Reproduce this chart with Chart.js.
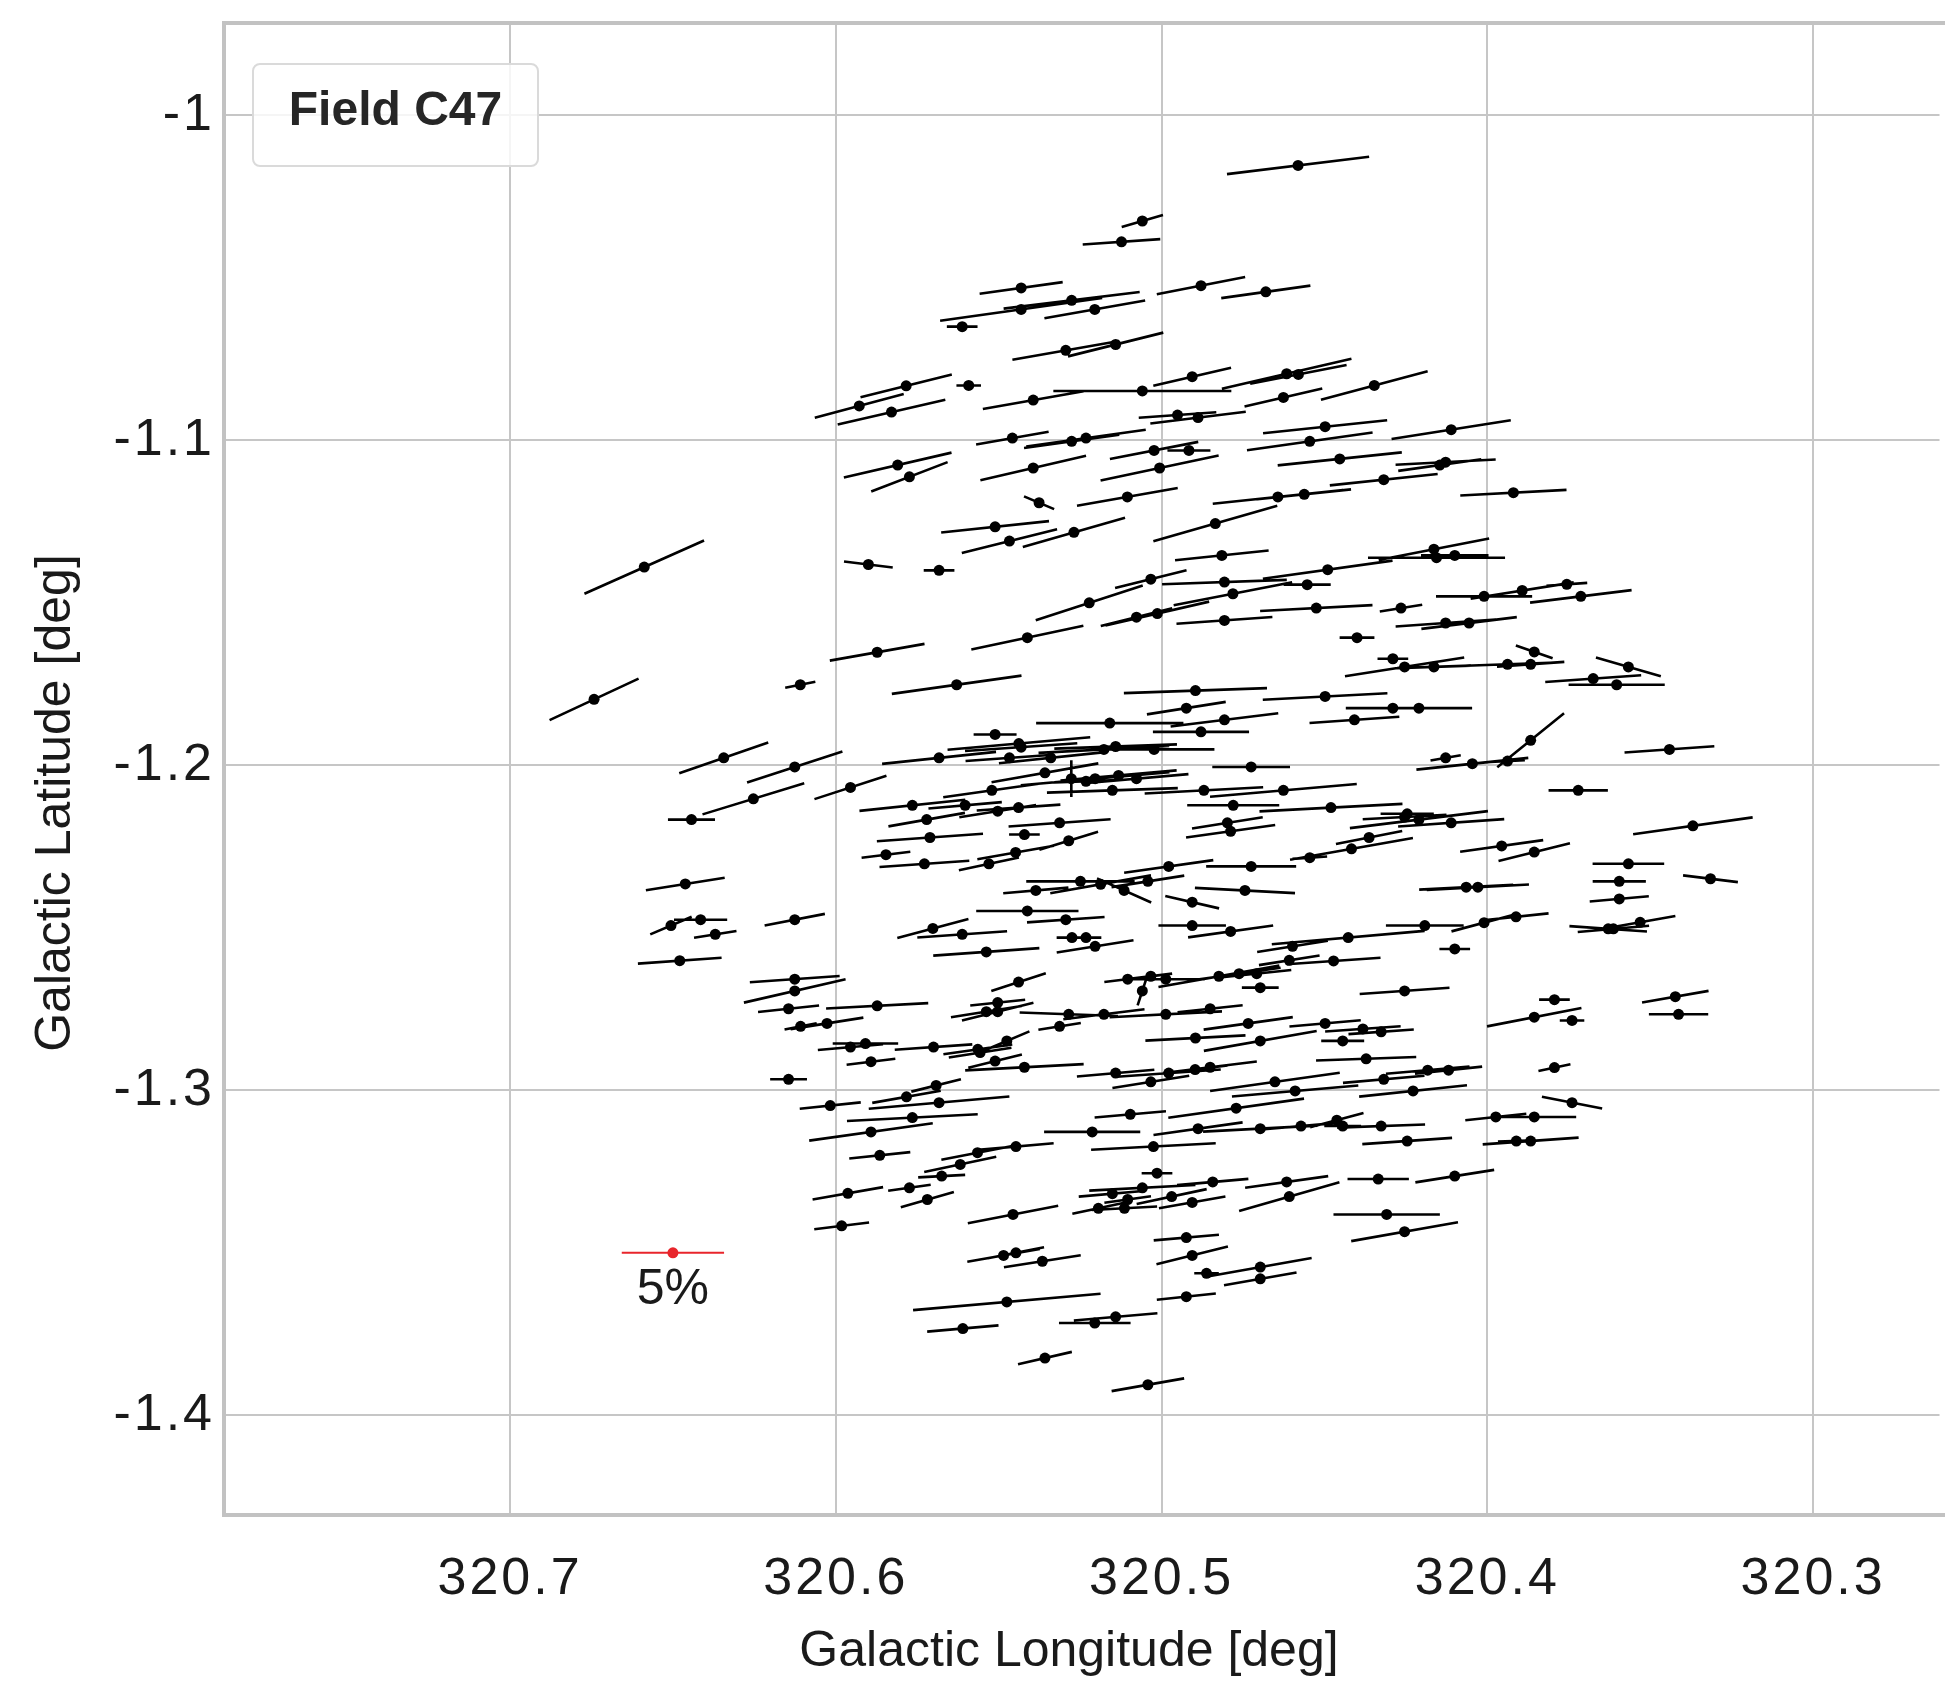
<!DOCTYPE html>
<html>
<head>
<meta charset="utf-8">
<title>Field C47</title>
<script src="https://cdn.jsdelivr.net/npm/chart.js@4.4.1/dist/chart.umd.min.js"></script>
<style>
  html, body { margin: 0; padding: 0; background: #ffffff; overflow: hidden; }
  canvas { display: block; }
</style>
</head>
<body>
<canvas id="myChart" width="1945" height="1682"></canvas>
<script>
// ---- data: galactic position, polarization degree (%) and angle of each vector (deg, on the map) ----
var lon = [
  320.5784, 320.5928, 320.5829, 320.5810, 320.5774,
  320.4581, 320.5059, 320.5123, 320.5431, 320.5276, 320.5431, 320.5205, 320.5612, 320.4879, 320.4680,
  320.5294, 320.5141, 320.5592, 320.5394, 320.5059, 320.4906, 320.4616, 320.4580, 320.4626, 320.4951,
  320.4888, 320.4498, 320.5458, 320.5276, 320.5232, 320.5023, 320.4916, 320.4545, 320.4453, 320.5394,
  320.5006, 320.5376, 320.5105, 320.4643, 320.4562, 320.4835, 320.5511, 320.5467, 320.5269, 320.4815,
  320.4347, 320.4111, 320.4128, 320.4146, 320.4318, 320.3920, 320.4164,
  320.6588, 320.6742, 320.5900, 320.5683, 320.5873, 320.6109, 320.6344, 320.6126, 320.5683, 320.5955,
  320.6253, 320.6443, 320.5765, 320.5721, 320.5711, 320.5846, 320.5728, 320.6462, 320.6415, 320.6506,
  320.6370, 320.6126, 320.6479, 320.5702,
  320.5033, 320.4807, 320.4490, 320.4553, 320.4781, 320.5222, 320.5077, 320.5013, 320.4807, 320.4525,
  320.5412, 320.5629, 320.4896, 320.4498, 320.4924, 320.4807, 320.5159, 320.4879, 320.5511, 320.5438,
  320.5431, 320.5467, 320.5340, 320.5177, 320.5141, 320.5023, 320.4725, 320.5277, 320.5358, 320.5232,
  320.5204, 320.5132, 320.5077, 320.5151, 320.5521, 320.4870, 320.4626, 320.5603, 320.5503, 320.5439,
  320.4780, 320.4480, 320.5313, 320.4798, 320.4788, 320.5421, 320.5285, 320.5448, 320.5530, 320.4978,
  320.4725, 320.4545, 320.5249, 320.5187, 320.5042, 320.5115, 320.5386, 320.4744, 320.4906, 320.5412,
  320.5294, 320.5612, 320.4906, 320.4788, 320.5275, 320.5232, 320.5204, 320.5538, 320.4598, 320.4608,
  320.4472,
  320.4156, 320.4100, 320.3756, 320.3893, 320.4010, 320.3713, 320.4265, 320.4128, 320.4056, 320.4400,
  320.3856, 320.4290, 320.4254, 320.4164, 320.3938, 320.3867, 320.3567, 320.3675, 320.3603, 320.4290,
  320.4210, 320.4408, 320.3867, 320.3441, 320.4128, 320.4046, 320.3938, 320.3721, 320.4246, 320.4254,
  320.4210, 320.4111, 320.4363, 320.4417, 320.3369, 320.3956, 320.3856, 320.3567, 320.3595, 320.3315,
  320.3595, 320.4065, 320.4029, 320.4192, 320.4010, 320.3912, 320.4427, 320.3629, 320.3613, 320.3531,
  320.4100,
  320.6126, 320.6126, 320.6145, 320.5873, 320.6108, 320.6027, 320.5955, 320.5909, 320.5700, 320.5892,
  320.6145, 320.5692, 320.5783, 320.6017, 320.5683, 320.5765, 320.5892, 320.5865, 320.5675, 320.5963,
  320.5774, 320.5719, 320.5982,
  320.5439, 320.5104, 320.5033, 320.4987, 320.5059, 320.4824, 320.4762, 320.4708, 320.4697, 320.5503,
  320.5538, 320.5503, 320.5285, 320.5177, 320.5313, 320.4987, 320.4851, 320.4734, 320.4498, 320.4896,
  320.4697, 320.4444, 320.5475, 320.5564, 320.5557, 320.5511, 320.5421, 320.5141, 320.4978, 320.4897,
  320.4851, 320.5033, 320.4652, 320.4590, 320.5096, 320.4771, 320.5213, 320.4888, 320.4697, 320.4572,
  320.4462, 320.4444, 320.5025, 320.5447, 320.5565, 320.5618, 320.5014, 320.5059, 320.4843, 320.5151,
  320.5104, 320.5194, 320.5114, 320.4969, 320.4906, 320.4616, 320.4608, 320.5456, 320.4924, 320.4906,
  320.5485, 320.5447, 320.5366, 320.4862, 320.4697, 320.4697, 320.5475, 320.4924, 320.5141, 320.5205,
  320.5610, 320.5358, 320.5042,
  320.4254, 320.3794, 320.3423, 320.3413, 320.3856, 320.3740, 320.4382, 320.4326, 320.4372, 320.4183,
  320.4119, 320.4318, 320.4228, 320.3794, 320.3740, 320.3974, 320.3856, 320.4326, 320.4246, 320.3911,
  320.3867, 320.4335, 320.4100, 320.4309, 320.4254
];
var lat = [
  -1.0832, -1.0894, -1.0913, -1.1076, -1.1112,
  -1.0154, -1.0325, -1.0389, -1.0531, -1.0569, -1.0597, -1.0597, -1.0650, -1.0524, -1.0543,
  -1.0723, -1.0705, -1.0831, -1.0876, -1.0848, -1.0804, -1.0795, -1.0797, -1.0868, -1.0922,
  -1.0930, -1.0958, -1.0993, -1.1003, -1.0993, -1.1031, -1.1031, -1.1003, -1.1057, -1.1085,
  -1.1085, -1.1192, -1.1174, -1.1174, -1.1166, -1.1256, -1.1266, -1.1310, -1.1283, -1.1354,
  -1.0831, -1.0967, -1.1067, -1.1076, -1.1121, -1.1161, -1.1335,
  -1.1390, -1.1797, -1.1382, -1.1400, -1.1652, -1.1752, -1.1977, -1.2005, -1.1977, -1.2068,
  -1.2103, -1.2167, -1.2123, -1.2167, -1.2222, -1.2275, -1.2303, -1.2365, -1.2475, -1.2493,
  -1.2520, -1.2475, -1.2601, -1.2502,
  -1.1427, -1.1436, -1.1398, -1.1444, -1.1472, -1.1500, -1.1544, -1.1533, -1.1554, -1.1516,
  -1.1607, -1.1752, -1.1770, -1.1788, -1.1824, -1.1860, -1.1870, -1.1897, -1.1905, -1.1933,
  -1.1944, -1.1977, -1.1977, -1.1951, -1.1942, -1.1951, -1.2005, -1.2041, -1.2023, -1.2049,
  -1.2041, -1.2031, -1.2041, -1.2077, -1.2077, -1.2077, -1.2077, -1.2123, -1.2141, -1.2130,
  -1.2123, -1.2130, -1.2177, -1.2177, -1.2203, -1.2213, -1.2232, -1.2268, -1.2303, -1.2311,
  -1.2311, -1.2284, -1.2357, -1.2366, -1.2357, -1.2385, -1.2385, -1.2385, -1.2421, -1.2448,
  -1.2475, -1.2520, -1.2493, -1.2511, -1.2530, -1.2530, -1.2557, -1.2574, -1.2557, -1.2600,
  -1.2602,
  -1.1361, -1.1354, -1.1443, -1.1462, -1.1480, -1.1480, -1.1516, -1.1562, -1.1562, -1.1607,
  -1.1651, -1.1672, -1.1697, -1.1697, -1.1689, -1.1689, -1.1697, -1.1733, -1.1752, -1.1824,
  -1.1824, -1.1860, -1.1923, -1.1951, -1.1977, -1.1995, -1.1987, -1.2077, -1.2149, -1.2159,
  -1.2167, -1.2177, -1.2222, -1.2257, -1.2186, -1.2248, -1.2267, -1.2303, -1.2357, -1.2349,
  -1.2411, -1.2375, -1.2375, -1.2493, -1.2484, -1.2466, -1.2530, -1.2503, -1.2503, -1.2483,
  -1.2565,
  -1.2658, -1.2694, -1.2749, -1.2740, -1.2803, -1.2794, -1.2867, -1.2856, -1.2867, -1.2912,
  -1.2966, -1.2985, -1.3020, -1.3047, -1.3038, -1.3084, -1.3128, -1.3200, -1.3264, -1.3317,
  -1.3300, -1.3336, -1.3417,
  -1.2667, -1.2658, -1.2649, -1.2658, -1.2694, -1.2649, -1.2641, -1.2641, -1.2684, -1.2730,
  -1.2758, -1.2758, -1.2766, -1.2766, -1.2803, -1.2766, -1.2749, -1.2794, -1.2794, -1.2839,
  -1.2848, -1.2848, -1.2848, -1.2874, -1.2884, -1.2910, -1.2929, -1.2947, -1.2947, -1.2936,
  -1.2929, -1.2974, -1.2974, -1.3002, -1.3074, -1.3055, -1.3128, -1.3118, -1.3118, -1.3110,
  -1.3092, -1.3110, -1.3173, -1.3173, -1.3192, -1.3228, -1.3255, -1.3300, -1.3282, -1.3318,
  -1.3336, -1.3363, -1.3363, -1.3327, -1.3345, -1.3282, -1.3327, -1.3382, -1.3453, -1.3508,
  -1.3508, -1.3500, -1.3526, -1.3563, -1.3544, -1.3580, -1.3651, -1.3635, -1.3697, -1.3716,
  -1.3733, -1.3824, -1.3906,
  -1.2694, -1.2721, -1.2712, -1.2766, -1.2775, -1.2785, -1.2811, -1.2820, -1.2903, -1.2938,
  -1.2938, -1.2966, -1.3002, -1.2930, -1.3038, -1.3082, -1.3082, -1.3110, -1.3156, -1.3156,
  -1.3156, -1.3273, -1.3264, -1.3382, -1.3435
];
var pol = [
  4.6, 4.5, 5.4, 5.4, 4.0,
  7.0, 2.1, 3.8, 4.1, 6.7, 8.0, 5.0, 1.5, 4.4, 4.4,
  5.3, 4.8, 1.2, 5.0, 8.7, 3.9, 6.5, 4.8, 3.9, 3.8,
  4.7, 6.1, 3.6, 4.7, 5.9, 4.4, 2.1, 6.2, 6.1, 5.3,
  5.9, 1.6, 5.0, 6.4, 4.6, 6.3, 5.3, 4.8, 5.2, 4.6,
  5.4, 5.9, 4.9, 4.1, 5.3, 5.2, 5.5,
  6.4, 4.8, 2.4, 1.5, 4.7, 1.5, 4.6, 4.9, 5.6, 3.7,
  5.2, 2.3, 5.2, 3.8, 5.2, 2.4, 4.4, 3.9, 2.6, 2.2,
  2.1, 3.0, 4.1, 3.6,
  3.6, 6.1, 6.4, 2.3, 5.9, 5.5, 3.6, 5.2, 4.7, 5.5,
  5.6, 6.4, 7.0, 6.1, 3.9, 5.3, 7.2, 4.7, 2.1, 7.0,
  5.5, 4.3, 5.1, 6.4, 6.0, 5.9, 3.8, 1.8, 5.3, 3.1,
  7.3, 5.7, 5.1, 6.4, 4.8, 5.8, 7.2, 3.6, 3.8, 4.1,
  4.5, 7.0, 5.0, 3.5, 4.4, 1.5, 3.0, 3.8, 3.0, 4.4,
  4.4, 1.7, 5.3, 5.0, 3.6, 2.9, 3.2, 4.9, 2.7, 5.0,
  3.8, 4.4, 3.3, 4.2, 1.5, 1.5, 3.8, 5.2, 3.5, 3.0,
  4.6,
  6.7, 3.3, 2.0, 5.1, 4.7, 5.0, 2.1, 4.9, 4.7, 1.7,
  1.9, 1.5, 5.9, 3.6, 4.8, 3.3, 3.3, 4.7, 4.7, 4.6,
  5.2, 4.4, 4.2, 4.4, 1.5, 5.5, 1.7, 2.9, 2.6, 4.1,
  6.8, 5.2, 3.3, 6.1, 5.9, 4.1, 3.6, 3.5, 2.6, 2.7,
  2.9, 4.6, 5.0, 3.8, 3.3, 3.2, 7.5, 3.8, 3.5, 3.5,
  1.5,
  4.4, 5.1, 3.0, 5.0, 1.6, 3.6, 3.2, 3.2, 3.8, 2.4,
  1.8, 2.5, 3.4, 3.0, 6.9, 6.4, 6.1, 3.0, 2.3, 3.5,
  2.1, 2.7, 2.7,
  2.8, 2.3, 2.1, 3.8, 1.5, 6.0, 4.1, 3.4, 1.8, 2.7,
  3.5, 3.6, 4.8, 4.0, 2.1, 5.5, 3.2, 4.4, 3.5, 4.9,
  5.6, 2.1, 2.4, 3.4, 3.1, 2.7, 5.8, 3.8, 5.1, 3.2,
  4.6, 3.8, 6.4, 6.2, 3.5, 6.7, 4.7, 4.4, 5.6, 3.9,
  2.7, 1.8, 6.1, 3.7, 3.6, 3.6, 1.5, 5.2, 3.5, 3.3,
  2.3, 2.6, 3.2, 3.5, 3.3, 4.1, 5.1, 4.5, 3.2, 3.6,
  3.6, 2.8, 3.8, 1.2, 5.1, 3.6, 9.2, 2.9, 4.1, 3.5,
  3.5, 2.7, 3.6,
  4.4, 1.5, 3.3, 2.9, 4.7, 1.2, 3.7, 3.2, 4.9, 4.1,
  3.3, 4.0, 5.3, 1.6, 3.0, 3.0, 4.1, 4.3, 4.4, 1.8,
  4.7, 3.0, 3.9, 5.2, 5.3
];
var ang = [
  14, 15, 13, 13, 21,
  7, 16, 4, 8, 7, 8, 10, 0, 11, 8,
  10, 14, 0, 10, 0, 13, 13, 11, 13, 4,
  7, 6, 10, 8, 8, 11, 0, 8, 6, 13,
  12, -23, 10, 6, 6, 16, 6, 14, 16, 6,
  15, 9, 3, 8, 6, 3, 11,
  24, 25, -7, 0, 10, 11, 19, 18, 6, 18,
  17, 0, 6, 10, 4, 7, 4, 9, 0, 23,
  9, 11, 4, 15,
  14, 2, 8, 0, 11, 18, 14, 13, 4, 3,
  12, 8, 2, 3, 9, 7, 0, 0, 0, 5,
  4, 4, 6, 3, 2, 0, 0, 90, 10, 2,
  5, 5, 5, 2, 8, 3, 5, 5, 9, 4,
  0, 3, 4, 9, 8, 0, 17, 10, 12, 8,
  0, 4, 0, 10, 9, -24, 5, -3, -13, 0,
  4, 4, 0, 8, 0, 0, 9, 4, 9, 9,
  4,
  0, 0, 4, 9, 0, 7, 9, 4, 7, 0,
  -19, 0, 9, 2, 2, 4, -16, 4, 0, 0,
  0, 4, 39, 4, 10, 6, 3, 0, 0, 3,
  7, 4, 11, 10, 8, 8, 14, 0, 0, -7,
  5, 3, 3, 0, 15, 6, 5, -4, 5, 10,
  0,
  4, 13, 6, 3, 11, 9, 5, 0, 4, 7,
  0, 14, 10, 6, 5, 3, 8, 6, 3, 10,
  8, 16, 7,
  18, 7, 7, 0, 72, 10, 8, 6, 0, 6,
  9, 14, -2, 7, 9, 3, 6, 8, 5, 3,
  10, 0, 23, 8, 9, 14, 3, 5, 4, 7,
  7, 9, 8, 5, 5, 8, 0, 8, 3, 5,
  15, 0, 3, 5, 11, 12, 0, 3, 5, 5,
  8, 12, 3, 12, 10, 8, 16, 11, 5, 14,
  10, 11, 9, 0, 10, 10, 5, 6, 5, 0,
  5, 13, 10,
  4, 0, 10, 0, 11, 0, 4, 4, 2, 5,
  6, 5, 6, 12, -11, 6, 0, 2, 4, 2,
  4, 0, 9, 0, 10
];

// scale vector (red)
var refLon = [320.65];
var refLat = [-1.35];
var refPol = [5];
var refLabel = '5%';

var xTicks = [320.7, 320.6, 320.5, 320.4, 320.3];
var xTickLabels = ['320.7', '320.6', '320.5', '320.4', '320.3'];
var yTicks = [-1, -1.1, -1.2, -1.3, -1.4];
var yTickLabels = ['-1', '-1.1', '-1.2', '-1.3', '-1.4'];

var fieldName = 'Field C47';
var xTitle = 'Galactic Longitude [deg]';
var yTitle = 'Galactic Latitude [deg]';

// ---- styling ----
var FONT = "'Liberation Sans', Arial, Helvetica, sans-serif";
var gridColor = '#c6c6c6';
var textColor = '#1a1a1a';
var red = '#e8252b';
var degPerPct = 0.00628;   // length of 1% polarization, in degrees of longitude

Chart.defaults.font.family = FONT;

function labelFor(list, labels, v) {
  for (var i = 0; i < list.length; i++) {
    if (Math.abs(list[i] - v) < 1e-9) return labels[i];
  }
  return '';
}

var points = lon.map(function (v, i) { return { x: v, y: lat[i] }; });

// polarization segments, drawn under the dots
var vectorPlugin = {
  id: 'vectors',
  beforeDraw: function (chart) {
    chart.ctx.letterSpacing = '3px';
  },
  beforeDatasetsDraw: function (chart) {
    var c = chart.ctx, xs = chart.scales.x, ys = chart.scales.y, a = chart.chartArea;
    c.letterSpacing = '0px';

    // frame (left, top, bottom spines)
    c.save();
    c.strokeStyle = '#c2c2c2';
    c.lineWidth = 4;
    c.beginPath();
    c.moveTo(chart.width + 5, a.top);
    c.lineTo(a.left, a.top);
    c.lineTo(a.left, a.bottom);
    c.lineTo(chart.width + 5, a.bottom);
    c.stroke();
    c.restore();

    var pxPerPct = Math.abs(xs.getPixelForValue(320.5) - xs.getPixelForValue(320.5 + degPerPct));
    c.save();
    c.strokeStyle = '#000000';
    c.lineWidth = 2.6;
    c.beginPath();
    for (var i = 0; i < lon.length; i++) {
      var px = xs.getPixelForValue(lon[i]);
      var py = ys.getPixelForValue(lat[i]);
      var h = pol[i] * pxPerPct / 2;
      var t = ang[i] * Math.PI / 180;
      var dx = h * Math.cos(t), dy = h * Math.sin(t);
      c.moveTo(px - dx, py + dy);
      c.lineTo(px + dx, py - dy);
    }
    c.stroke();

    // reference bar
    var rx = xs.getPixelForValue(refLon[0]);
    var ry = ys.getPixelForValue(refLat[0]);
    var rh = refPol[0] * pxPerPct / 2;
    c.strokeStyle = red;
    c.lineWidth = 2;
    c.beginPath();
    c.moveTo(rx - rh, ry);
    c.lineTo(rx + rh, ry);
    c.stroke();

    c.fillStyle = textColor;
    c.font = '50px ' + FONT;
    c.textAlign = 'center';
    c.textBaseline = 'middle';
    c.fillText(refLabel, rx, ry + 37);
    c.restore();
  },
  afterDraw: function (chart) {
    var c = chart.ctx;
    c.save();
    c.letterSpacing = '0px';
    // axis titles
    c.fillStyle = textColor;
    c.font = '50px ' + FONT;
    c.textAlign = 'center';
    c.textBaseline = 'middle';
    c.fillText(xTitle, 1069, 1652);
    c.translate(56, 803);
    c.rotate(-Math.PI / 2);
    c.fillText(yTitle, 0, 0);
    c.restore();

    // legend box
    c.save();
    var bx = 253, by = 64, bw = 285, bh = 102, r = 7;
    c.beginPath();
    c.moveTo(bx + r, by);
    c.arcTo(bx + bw, by, bx + bw, by + bh, r);
    c.arcTo(bx + bw, by + bh, bx, by + bh, r);
    c.arcTo(bx, by + bh, bx, by, r);
    c.arcTo(bx, by, bx + bw, by, r);
    c.closePath();
    c.fillStyle = 'rgba(255,255,255,0.82)';
    c.fill();
    c.strokeStyle = '#dadada';
    c.lineWidth = 2;
    c.stroke();
    c.fillStyle = '#262626';
    c.font = 'bold 48px ' + FONT;
    c.textAlign = 'center';
    c.textBaseline = 'middle';
    c.fillText(fieldName, bx + bw / 2, by + 48);
    c.restore();
  }
};

var ctx = document.getElementById('myChart').getContext('2d');
var chart = new Chart(ctx, {
  type: 'scatter',
  data: {
    datasets: [
      {
        label: fieldName,
        data: points,
        pointRadius: 5.5,
        pointBorderWidth: 0,
        pointBackgroundColor: '#000000',
        pointHoverRadius: 5.5
      },
      {
        label: refLabel,
        data: [{ x: refLon[0], y: refLat[0] }],
        pointRadius: 5.5,
        pointBorderWidth: 0,
        pointBackgroundColor: red
      }
    ]
  },
  options: {
    responsive: false,
    animation: false,
    devicePixelRatio: 1,
    events: [],
    layout: { padding: { top: 23, right: 0, left: 0, bottom: 0 } },
    plugins: {
      legend: { display: false },
      tooltip: { enabled: false }
    },
    scales: {
      x: {
        type: 'linear',
        reverse: true,
        min: 320.2612,
        max: 320.7878,
        border: { display: false },
        grid: { color: gridColor, lineWidth: 2, drawTicks: false },
        ticks: {
          padding: 33,
          color: textColor,
          font: { size: 52 },
          callback: function (v) { return labelFor(xTicks, xTickLabels, v); }
        },
        afterBuildTicks: function (s) {
          s.ticks = xTicks.map(function (v) { return { value: v }; });
        },
        afterFit: function (s) {
          s.height = 167;
          s.paddingLeft = 0; s.paddingRight = 0; s.paddingTop = 0; s.paddingBottom = 0;
        }
      },
      y: {
        type: 'linear',
        min: -1.43068,
        max: -0.97157,
        border: { display: false },
        grid: { color: gridColor, lineWidth: 2, drawTicks: false },
        ticks: {
          padding: 9,
          color: textColor,
          font: { size: 52 },
          callback: function (v) { return labelFor(yTicks, yTickLabels, v); }
        },
        afterBuildTicks: function (s) {
          s.ticks = yTicks.map(function (v) { return { value: v }; });
        },
        afterFit: function (s) {
          s.width = 224;
          s.paddingLeft = 0; s.paddingRight = 0; s.paddingTop = 0; s.paddingBottom = 0;
        }
      }
    }
  },
  plugins: [vectorPlugin]
});
</script>
</body>
</html>
